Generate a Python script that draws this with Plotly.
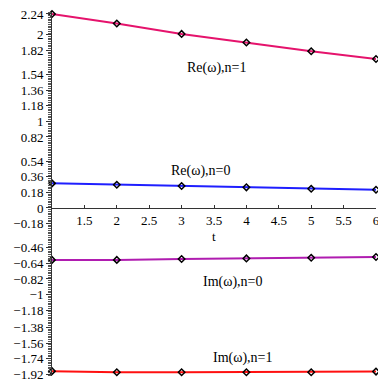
import plotly.graph_objects as go

# data
t = [1, 2, 3, 4, 5, 6]
re_n1 = [2.24, 2.13, 2.01, 1.91, 1.81, 1.72]
re_n0 = [0.284, 0.268, 0.253, 0.238, 0.222, 0.21]
im_n0 = [-0.60, -0.60, -0.59, -0.583, -0.575, -0.567]
im_n1 = [-1.885, -1.897, -1.897, -1.897, -1.897, -1.89]

y_ticks = [2.24, 2, 1.82, 1.54, 1.36, 1.18, 1, 0.82, 0.54, 0.36, 0.18, 0,
           -0.18, -0.46, -0.64, -0.82, -1, -1.18, -1.38, -1.56, -1.74, -1.92]
x_ticks = [1.5, 2, 2.5, 3, 3.5, 4, 4.5, 5, 5.5, 6]

series = [
    ("Re(ω),n=1", re_n1, "#e5136c"),
    ("Re(ω),n=0", re_n0, "#1f1fff"),
    ("Im(ω),n=0", im_n0, "#b01cb0"),
    ("Im(ω),n=1", im_n1, "#ff1010"),
]

# label positions (t, value)
labels = [
    ("Re(ω),n=1", 3.55, 1.62),
    ("Re(ω),n=0", 3.3, 0.43),
    ("Im(ω),n=0", 3.8, -0.85),
    ("Im(ω),n=1", 3.95, -1.73),
]

y_range = [-1.941, 2.263]
serif = "Liberation Serif, Times New Roman, serif"
tick_font = dict(family=serif, size=13, color="black")

fig = go.Figure()
for name, vals, col in series:
    fig.add_trace(go.Scatter(
        x=t, y=vals, mode="lines+markers", name=name,
        line=dict(color=col, width=2),
        marker=dict(symbol="diamond-open", size=5, color="black", line=dict(width=1.5)),
        cliponaxis=False,
    ))

for txt, lx, ly in labels:
    fig.add_annotation(x=lx, y=ly, text=txt, showarrow=False,
                       font=dict(family=serif, size=14, color="black"))

fig.add_annotation(x=3.5, y=-0.33, text="t", showarrow=False,
                   font=dict(family=serif, size=13, color="black"))

# page body keeps its 8px margin: 370 wide, and tall enough to reach the window bottom
fig.update_layout(
    template="none",
    width=370, height=378,
    margin=dict(l=44, r=2, t=4, b=10),
    plot_bgcolor="white", paper_bgcolor="white",
    showlegend=False,
    font=dict(family=serif, size=13, color="black"),
)
fig.update_xaxes(
    range=[1, 6], tickvals=x_ticks, showgrid=False, zeroline=False,
    showline=True, linecolor="#333", linewidth=1, automargin=False,
    ticks="inside", ticklen=3, tickcolor="#333", tickfont=tick_font,
    ticklabeloverflow="allow",
    anchor="free", position=(0 - y_range[0]) / (y_range[1] - y_range[0]),
)
fig.update_yaxes(
    range=y_range, tickmode="array", tickvals=y_ticks, showgrid=False,
    zeroline=False, showline=True, linecolor="#333", linewidth=1,
    automargin=False, tickfont=tick_font, ticklabeloverflow="allow",
    ticks="outside", ticklen=5, tickcolor="#333",
    minor=dict(dtick=0.02, tick0=0, ticks="outside", ticklen=3, tickcolor="#555"),
)

fig.write_html("out.html")
